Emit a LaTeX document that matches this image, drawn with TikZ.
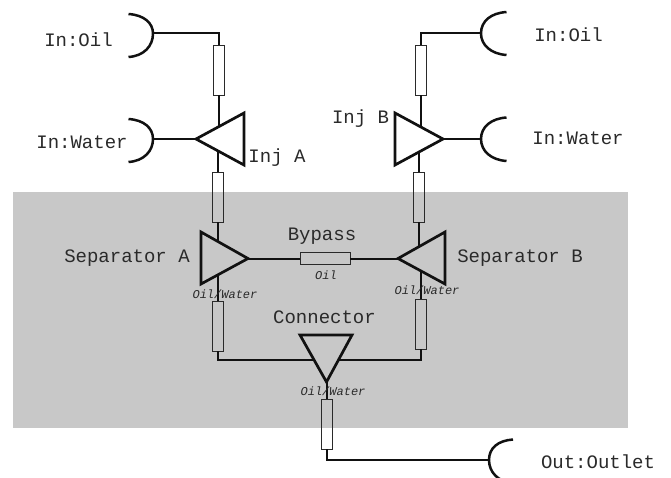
\documentclass[tikz,border=0pt]{standalone}
\usepackage{fontspec}
\setmonofont{Liberation Mono}
\definecolor{graybg}{HTML}{C8C8C8}
\definecolor{ink}{HTML}{111111}
\definecolor{txt}{HTML}{2A2A2A}
\tikzset{
  pipe/.style={draw=ink,line width=2pt},
  tri/.style={draw=ink,line width=2.7pt,line join=miter},
  port/.style={draw=ink,line width=2.5pt},
  vres/.style={draw=txt,line width=0.9pt,minimum width=11pt,minimum height=50pt,inner sep=0pt,outer sep=0pt},
  hres/.style={draw=txt,line width=0.9pt,minimum width=50pt,minimum height=12pt,inner sep=0pt,outer sep=0pt},
  lab/.style={inner sep=0pt,text=txt,font=\ttfamily\fontsize{19}{19}\selectfont},
  sm/.style={inner sep=0pt,text=txt,font=\ttfamily\itshape\fontsize{12}{12}\selectfont}
}
\begin{document}
\begin{tikzpicture}[x=1pt,y=-1pt]
\path[use as bounding box,clip] (0,0) rectangle (671,478);
\fill[white] (0,0) rectangle (671,478);
\fill[graybg] (13,192) rectangle (628,428);
% junction points
\coordinate (pOilL) at (153,33.5);
\coordinate (pWatL) at (153,139);
\coordinate (pOilR) at (481,33.5);
\coordinate (pWatR) at (481,139);
\coordinate (pOut) at (489,460);
\coordinate (cOilL) at (218.5,33.5);
\coordinate (cOilR) at (420.5,33.5);
\coordinate (cOut) at (326.5,460);
\coordinate (cBotL) at (217.5,360);
\coordinate (cBotR) at (420.5,360);
% resistors
\node[vres] (r1) at (218.5,70) {};
\node[vres] (r2) at (217.5,197.5) {};
\node[vres] (r3) at (217.5,326) {};
\node[vres] (r4) at (420.5,70) {};
\node[vres] (r5) at (419,197.5) {};
\node[vres] (r6) at (420.5,324) {};
\node[vres] (r7) at (326.5,424) {};
\node[hres] (r8) at (325,258.5) {};
% triangles
\draw[tri] (196,139) coordinate (injAtip) -- (244,113) -- (244,165) -- cycle;
\draw[tri] (443,139) coordinate (injBtip) -- (395,113) -- (395,165) -- cycle;
\draw[tri] (248,258.5) coordinate (sepAtip) -- (201,232) -- (201,284) -- cycle;
\draw[tri] (398,258.5) coordinate (sepBtip) -- (445,232) -- (445,284) -- cycle;
\draw[tri] (326.5,382) coordinate (conTip) -- (300,335) -- (352,335) -- cycle;
% edge points on the triangles
\coordinate (injAu) at (218.5,127);
\coordinate (injAd) at (217.5,151);
\coordinate (injBu) at (420.5,126.5);
\coordinate (injBd) at (419,152);
\coordinate (sepAu) at (217.5,241);
\coordinate (sepAd) at (217.5,275);
\coordinate (sepBu) at (419,246);
\coordinate (sepBd) at (420.5,270);
\coordinate (conL) at (314,360);
\coordinate (conR) at (339,360);
% connectors
\draw[pipe,line join=miter] (pOilL) -- (cOilL) -- (r1.north);
\draw[pipe] (r1.south) -- (injAu);
\draw[pipe] (pWatL) -- (injAtip);
\draw[pipe] (injAd) -- (r2.north);
\draw[pipe] (r2.south) -- (sepAu);
\draw[pipe] (sepAd) -- (r3.north);
\draw[pipe,line join=miter] (r3.south) -- (cBotL) -- (conL);
\draw[pipe,line join=miter] (conR) -- (cBotR) -- (r6.south);
\draw[pipe] (r6.north) -- (sepBd);
\draw[pipe] (sepBu) -- (r5.south);
\draw[pipe] (r5.north) -- (injBd);
\draw[pipe] (injBu) -- (r4.south);
\draw[pipe,line join=miter] (r4.north) -- (cOilR) -- (pOilR);
\draw[pipe] (injBtip) -- (pWatR);
\draw[pipe] (sepAtip) -- (r8.west);
\draw[pipe] (r8.east) -- (sepBtip);
\draw[pipe] (conTip) -- (r7.north);
\draw[pipe,line join=miter] (r7.south) -- (cOut) -- (pOut);
% ports
\draw[port] (128.5,14) .. controls (144,15) and (153,23) .. (pOilL) .. controls (153,46) and (144,56) .. (128.5,57);
\draw[port] (128.5,119) .. controls (144,120) and (153,128) .. (pWatL) .. controls (153,151) and (144,161) .. (128.5,162);
\draw[port] (506.5,12) .. controls (491,13) and (481,21) .. (pOilR) .. controls (481,45) and (491,54) .. (506.5,55);
\draw[port] (506.5,117.5) .. controls (491,118.5) and (481,127) .. (pWatR) .. controls (481,151) and (491,160) .. (506.5,161);
\draw[port] (513,439.5) .. controls (498,440.5) and (489,448) .. (pOut) .. controls (489,472) and (498,482) .. (513,483);
% labels
\node[lab] (tOilL) at (78.5,39.5) {In:Oil};
\node[lab] (tWatL) at (82,142) {In:Water};
\node[lab] (tInjA) at (277,157.5) {Inj A};
\node[lab] (tInjB) at (360.5,118.5) {Inj B};
\node[lab] (tOilR) at (568.5,35) {In:Oil};
\node[lab] (tWatR) at (578,138) {In:Water};
\node[lab] (tSepA) at (127,258) {Separator A};
\node[lab] (tSepB) at (520,258.5) {Separator B};
\node[lab] (tByp) at (322,236.5) {Bypass};
\node[lab] (tCon) at (324.5,317.5) {Connector};
\node[lab] (tOut) at (598,462) {Out:Outlet};
\node[sm] (tOil) at (326,275.5) {Oil};
\node[sm] (tOWa) at (225,294) {Oil/Water};
\node[sm] (tOWb) at (427,290.5) {Oil/Water};
\node[sm] (tOWc) at (333,391) {Oil/Water};
\end{tikzpicture}
\end{document}
